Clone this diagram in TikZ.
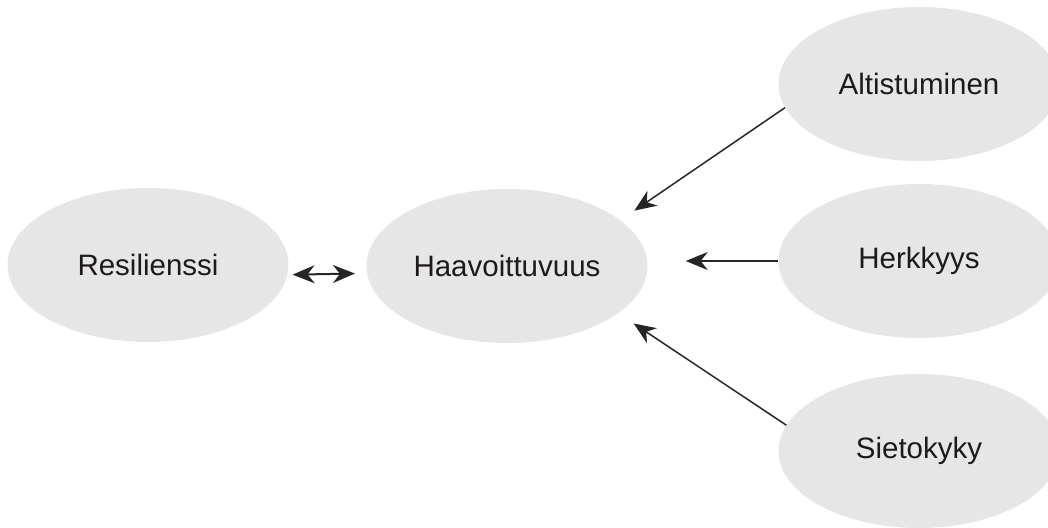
\documentclass[tikz,border=0pt]{standalone}
\usepackage{fontspec}
\setmainfont{Liberation Sans}
\usetikzlibrary{shapes.geometric,arrows.meta}
\definecolor{bubble}{HTML}{E6E6E6}
\definecolor{ink}{HTML}{1E1A1B}
\definecolor{wire}{HTML}{262626}
\begin{document}
\begin{tikzpicture}[x=1pt,y=-1pt,
  concept/.style={ellipse, fill=bubble, draw=none, inner sep=0pt,
    minimum width=281pt, minimum height=154pt,
    text=ink, font=\fontsize{29.5}{34}\selectfont},
  link/.style={draw=wire, line width=1.5pt,
    -{Stealth[length=22pt,width=18pt,inset=7pt]}},
  both/.style={draw=wire, line width=2pt,
    {Stealth[length=22pt,width=18pt,inset=7pt]}-{Stealth[length=22pt,width=18pt,inset=7pt]}}]
\useasboundingbox (0,0) rectangle (1048,527);
\clip (0,0) rectangle (1048,527);

% concepts
\node[concept] (res)  at (148,265) {Resilienssi};
\node[concept] (haav) at (507,266) {Haavoittuvuus};
\node[concept] (alt)  at (919,84)  {Altistuminen};
\node[concept] (herk) at (919,261) {Herkkyys};
\node[concept] (siet) at (919,451) {Sietokyky};

% two-way link between resilience and vulnerability
\draw[both, shorten <=5pt, shorten >=12pt] (res.-4.5) -- (haav.183);

% factors feeding vulnerability
\draw[link, shorten >=17pt] (alt.190.5) -- (haav.22);
\draw[link, shorten >=38pt] (herk.west) -- (haav.east |- herk.west);
\draw[link, shorten >=18.5pt] (siet.169.5) -- (haav.-23);
\end{tikzpicture}
\end{document}
